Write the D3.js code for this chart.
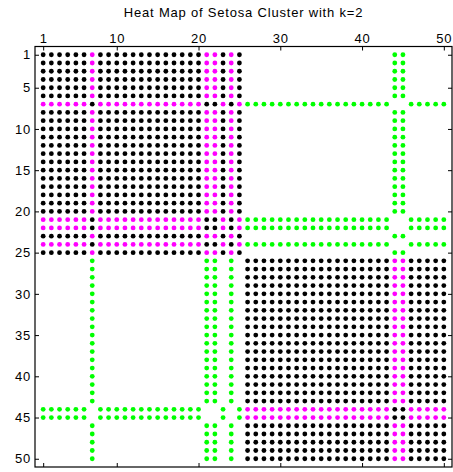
<!DOCTYPE html>
<html>
<head>
<meta charset="utf-8">
<script src="https://cdn.jsdelivr.net/npm/d3@7"></script>
<style>
  body { margin: 0; background: #fff; }
  svg { display: block; font-family: "Liberation Sans", Arial, sans-serif; }
</style>
</head>
<body>
<svg id="chart"></svg>
<script>
const title = "Heat Map of Setosa Cluster with k=2";
const xTicks = [1, 10, 20, 30, 40, 50];
const yTicks = [1, 5, 10, 15, 20, 25, 30, 35, 40, 45, 50];

// one string per row, columns in groups of 5
// K = black, M = magenta, G = green, . = empty
const rows = [
  "KKKKK KMKKK KKKKK KKKKK MMKMK ..... ..... ..... ...GG .....", // 1
  "KKKKK KMKKK KKKKK KKKKK MMKMK ..... ..... ..... ...GG .....",
  "KKKKK KMKKK KKKKK KKKKK MMKMK ..... ..... ..... ...GG .....",
  "KKKKK KMKKK KKKKK KKKKK MMKMK ..... ..... ..... ...GG .....",
  "KKKKK KMKKK KKKKK KKKKK MMKMK ..... ..... ..... ...GG .....", // 5
  "KKKKK KMKKK KKKKK KKKKK MMKMK ..... ..... ..... ...GG .....",
  "MMMMM MKMMM MMMMM MMMMM KKMKM GGGGG GGGGG GGGGG GGG.. GGGGG",
  "KKKKK KMKKK KKKKK KKKKK MMKMK ..... ..... ..... ...GG .....",
  "KKKKK KMKKK KKKKK KKKKK MMKMK ..... ..... ..... ...GG .....",
  "KKKKK KMKKK KKKKK KKKKK MMKMK ..... ..... ..... ...GG .....", // 10
  "KKKKK KMKKK KKKKK KKKKK MMKMK ..... ..... ..... ...GG .....",
  "KKKKK KMKKK KKKKK KKKKK MMKMK ..... ..... ..... ...GG .....",
  "KKKKK KMKKK KKKKK KKKKK MMKMK ..... ..... ..... ...GG .....",
  "KKKKK KMKKK KKKKK KKKKK MMKMK ..... ..... ..... ...GG .....",
  "KKKKK KMKKK KKKKK KKKKK MMKMK ..... ..... ..... ...GG .....", // 15
  "KKKKK KMKKK KKKKK KKKKK MMKMK ..... ..... ..... ...GG .....",
  "KKKKK KMKKK KKKKK KKKKK MMKMK ..... ..... ..... ...GG .....",
  "KKKKK KMKKK KKKKK KKKKK MMKMK ..... ..... ..... ...GG .....",
  "KKKKK KMKKK KKKKK KKKKK MMKMK ..... ..... ..... ...GG .....",
  "KKKKK KMKKK KKKKK KKKKK MMKMK ..... ..... ..... ...GG .....", // 20
  "MMMMM MKMMM MMMMM MMMMM KKMKM GGGGG GGGGG GGGGG GGG.. GGGGG",
  "MMMMM MKMMM MMMMM MMMMM KKMKM GGGGG GGGGG GGGGG GGG.. GGGGG",
  "KKKKK KMKKK KKKKK KKKKK MMKMK ..... ..... ..... ...GG .....",
  "MMMMM MKMMM MMMMM MMMMM KKMKM GGGGG GGGGG GGGGG GGG.. GGGGG",
  "KKKKK KMKKK KKKKK KKKKK MMKMK ..... ..... ..... ...GG .....", // 25
  "..... .G... ..... ..... GG.G. KKKKK KKKKK KKKKK KKKMM KKKKK",
  "..... .G... ..... ..... GG.G. KKKKK KKKKK KKKKK KKKMM KKKKK",
  "..... .G... ..... ..... GG.G. KKKKK KKKKK KKKKK KKKMM KKKKK",
  "..... .G... ..... ..... GG.G. KKKKK KKKKK KKKKK KKKMM KKKKK",
  "..... .G... ..... ..... GG.G. KKKKK KKKKK KKKKK KKKMM KKKKK", // 30
  "..... .G... ..... ..... GG.G. KKKKK KKKKK KKKKK KKKMM KKKKK",
  "..... .G... ..... ..... GG.G. KKKKK KKKKK KKKKK KKKMM KKKKK",
  "..... .G... ..... ..... GG.G. KKKKK KKKKK KKKKK KKKMM KKKKK",
  "..... .G... ..... ..... GG.G. KKKKK KKKKK KKKKK KKKMM KKKKK",
  "..... .G... ..... ..... GG.G. KKKKK KKKKK KKKKK KKKMM KKKKK", // 35
  "..... .G... ..... ..... GG.G. KKKKK KKKKK KKKKK KKKMM KKKKK",
  "..... .G... ..... ..... GG.G. KKKKK KKKKK KKKKK KKKMM KKKKK",
  "..... .G... ..... ..... GG.G. KKKKK KKKKK KKKKK KKKMM KKKKK",
  "..... .G... ..... ..... GG.G. KKKKK KKKKK KKKKK KKKMM KKKKK",
  "..... .G... ..... ..... GG.G. KKKKK KKKKK KKKKK KKKMM KKKKK", // 40
  "..... .G... ..... ..... GG.G. KKKKK KKKKK KKKKK KKKMM KKKKK",
  "..... .G... ..... ..... GG.G. KKKKK KKKKK KKKKK KKKMM KKKKK",
  "..... .G... ..... ..... GG.G. KKKKK KKKKK KKKKK KKKMM KKKKK",
  "GGGGG G.GGG GGGGG GGGGG ..G.G MMMMM MMMMM MMMMM MMMKK MMMMM",
  "GGGGG G.GGG GGGGG GGGGG ..G.G MMMMM MMMMM MMMMM MMMKK MMMMM", // 45
  "..... .G... ..... ..... GG.G. KKKKK KKKKK KKKKK KKKMM KKKKK",
  "..... .G... ..... ..... GG.G. KKKKK KKKKK KKKKK KKKMM KKKKK",
  "..... .G... ..... ..... GG.G. KKKKK KKKKK KKKKK KKKMM KKKKK",
  "..... .G... ..... ..... GG.G. KKKKK KKKKK KKKKK KKKMM KKKKK",
  "..... .G... ..... ..... GG.G. KKKKK KKKKK KKKKK KKKMM KKKKK"  // 50
];

const colours = { K: "#000000", M: "#ff00ff", G: "#00ff00" };

function parseData(rows) {
  let arr = [];
  rows.forEach((r, i) => {
    r.replace(/ /g, "").split("").forEach((c, j) => {
      if (c !== ".") arr.push({ row: i + 1, col: j + 1, colour: colours[c] });
    });
  });
  return arr;
}

function drawChart(data) {
  const width = 453;
  const height = 472;
  const marginTop = 46.5;
  const marginRight = 1;
  const marginBottom = 5;
  const marginLeft = 35;
  const n = rows.length;

  const x = d3.scaleLinear()
    .domain([0, n + 1])
    .range([marginLeft, width - marginRight]);

  const y = d3.scaleLinear()
    .domain([0, n + 1])
    .range([marginTop, height - marginBottom]);

  const svg = d3.select("#chart")
    .attr("width", width)
    .attr("height", height);

  svg.append("text")
    .attr("x", (marginLeft + width - marginRight) / 2)
    .attr("y", 17)
    .attr("text-anchor", "middle")
    .attr("font-size", 13)
    .attr("letter-spacing", 0.8)
    .text(title);

  svg.append("g")
    .selectAll("circle")
    .data(data)
    .join("circle")
    .attr("cx", d => x(d.col))
    .attr("cy", d => y(d.row))
    .attr("r", 2.4)
    .attr("fill", d => d.colour);

  const tickStyle = g => {
    g.select(".domain").remove();
    g.selectAll("line").attr("stroke", "#000");
    g.selectAll("text")
      .attr("font-size", 13)
      .attr("letter-spacing", 0.8)
      .attr("fill", "#000");
  };

  // top with labels, bottom without
  svg.append("g")
    .attr("transform", `translate(0,${marginTop})`)
    .call(d3.axisTop(x).tickValues(xTicks).tickSize(-4).tickPadding(4))
    .call(tickStyle);
  svg.append("g")
    .attr("transform", `translate(0,${height - marginBottom})`)
    .call(d3.axisBottom(x).tickValues(xTicks).tickSize(-4).tickFormat(""))
    .call(tickStyle);

  // left with labels, right without
  svg.append("g")
    .attr("transform", `translate(${marginLeft},0)`)
    .call(d3.axisLeft(y).tickValues(yTicks).tickSize(-4).tickPadding(4))
    .call(tickStyle);
  svg.append("g")
    .attr("transform", `translate(${width - marginRight},0)`)
    .call(d3.axisRight(y).tickValues(yTicks).tickSize(-4).tickFormat(""))
    .call(tickStyle);

  svg.append("rect")
    .attr("x", marginLeft)
    .attr("y", marginTop)
    .attr("width", width - marginLeft - marginRight)
    .attr("height", height - marginTop - marginBottom)
    .attr("fill", "none")
    .attr("stroke", "#000")
    .attr("stroke-width", 1.2);

  return svg.node();
}

drawChart(parseData(rows));
</script>
</body>
</html>
